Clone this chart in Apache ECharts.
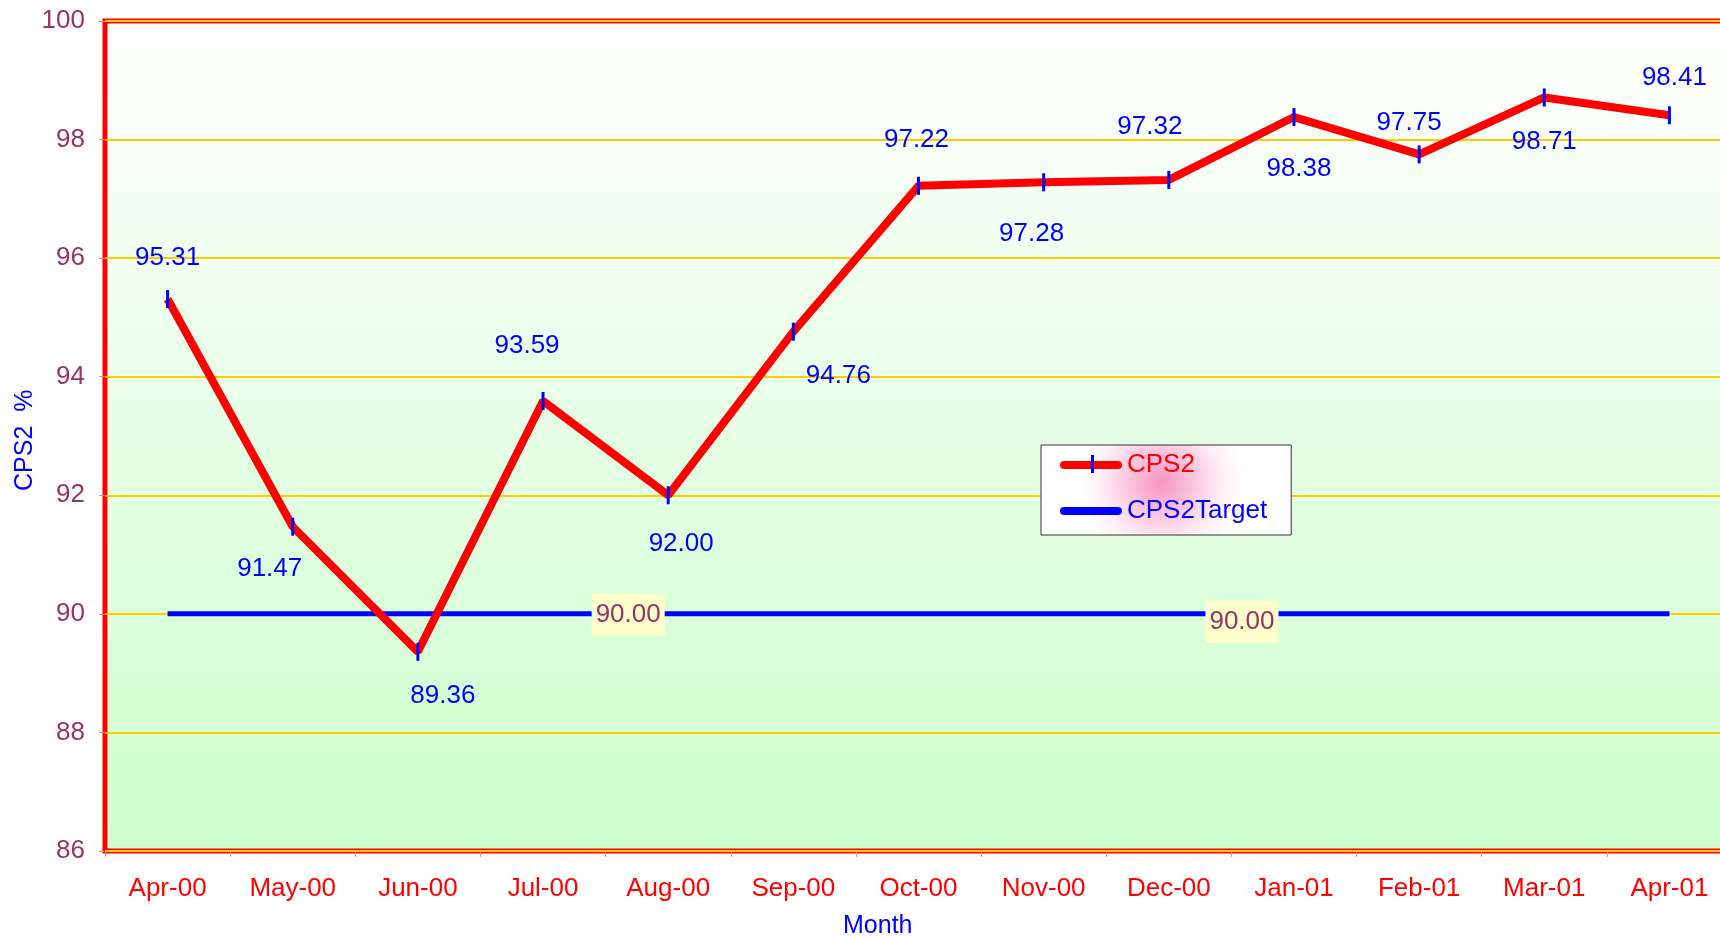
<!DOCTYPE html>
<html>
<head>
<meta charset="utf-8">
<script src="https://cdn.jsdelivr.net/npm/echarts@6/dist/echarts.min.js"></script>
<style>
html,body{margin:0;padding:0;background:#fff;}
#chart{width:1720px;height:937px;}
</style>
</head>
<body>
<div id="chart"></div>
<script>
const months = ['Apr-00','May-00','Jun-00','Jul-00','Aug-00','Sep-00','Oct-00','Nov-00','Dec-00','Jan-01','Feb-01','Mar-01','Apr-01'];
const cps2 = [95.31, 91.47, 89.36, 93.59, 92.00, 94.76, 97.22, 97.28, 97.32, 98.38, 97.75, 98.71, 98.41];
const cps2Target = [90, 90, 90, 90, 90, 90, 90, 90, 90, 90, 90, 90, 90];
const yTicks = [86, 88, 90, 92, 94, 96, 98, 100];

// label placement (styling only)
const labelOffsets = [[0,-41],[-23,42],[25,44],[-16,-55],[13,49],[45,44],[-2,-46],[-12,52],[-19,-53],[5,52],[-10,-32],[0,44],[5,-37]];
const targetLabelIdx = {4: [-40, 1], 9: [-52, 8]};

const font = 'Arial, "Liberation Sans", sans-serif';
const chart = echarts.init(document.getElementById('chart'), null, {renderer: 'canvas'});

const cpsData = cps2.map((v, i) => ({
  value: v,
  label: {show: true, position: 'inside', offset: labelOffsets[i], formatter: p => p.value.toFixed(2)}
}));
const targetData = cps2Target.map((v, i) => {
  const o = targetLabelIdx[i];
  return o ? {value: v, label: {show: true, position: 'inside', offset: o, formatter: p => p.value.toFixed(2),
    backgroundColor: '#FFFFCC', color: '#993366', padding: [9, 4, 7, 4], fontSize: 26, fontFamily: font}} : {value: v};
});

const barPath = 'path://M4,0 L55,0 A4,4 0 0 1 55,8 L4,8 A4,4 0 0 1 4,0 Z';

chart.setOption({
  animation: false,
  backgroundColor: '#ffffff',
  grid: {
    left: 105, top: 21, width: 1627, height: 830,
    outerBoundsMode: 'none',
    containLabel: false,
    show: true,
    borderColor: '#FF0000', borderWidth: 5,
    backgroundColor: new echarts.graphic.LinearGradient(0, 0, 0, 1, [
      {offset: 0, color: '#FFFFFF'},
      {offset: 0.08, color: '#FBFFFB'},
      {offset: 1, color: '#CCFFCC'}
    ])
  },
  xAxis: {
    type: 'category',
    data: months,
    boundaryGap: true,
    axisLine: {show: false},
    axisTick: {show: true, length: 6, alignWithLabel: false, lineStyle: {color: '#FF8080', width: 1}},
    axisLabel: {color: '#FF0000', fontSize: 26, fontFamily: font, margin: 25},
    splitLine: {show: false}
  },
  yAxis: {
    type: 'value',
    min: yTicks[0], max: yTicks[yTicks.length - 1], interval: 2,
    axisLine: {show: false},
    axisTick: {show: true, length: 6, lineStyle: {color: '#FF8080', width: 1}},
    axisLabel: {color: '#993366', fontSize: 26, fontFamily: font, margin: 20},
    splitLine: {show: true, lineStyle: {color: '#FFCC00', width: 2}}
  },
  legend: {
    orient: 'vertical',
    left: 1041, top: 445,
    padding: [4, 24, 8, 19],
    itemGap: 14,
    itemWidth: 62, itemHeight: 8,
    symbolKeepAspect: false,
    backgroundColor: new echarts.graphic.RadialGradient(0.48, 0.42, 0.9, [
      {offset: 0, color: '#F794C2'},
      {offset: 0.35, color: '#FAC0DB'},
      {offset: 0.75, color: '#FEF0F6'},
      {offset: 1, color: '#FFFFFF'}
    ]),
    borderColor: '#333333', borderWidth: 1,
    textStyle: {fontSize: 26, fontFamily: font, lineHeight: 32},
    data: [
      {name: 'CPS2', icon: barPath, itemStyle: {color: '#FF0000'}, textStyle: {color: '#FF0000'}},
      {name: 'CPS2Target', icon: barPath, itemStyle: {color: '#0000FF'}, textStyle: {color: '#0000FF'}}
    ]
  },
  graphic: [
    {type: 'text', left: 843, top: 914, style: {text: 'Month', fill: '#0000FF', font: '25px ' + font}},
    {type: 'text', x: 13, y: 491, rotation: Math.PI / 2, style: {text: 'CPS2  %', fill: '#0000FF', font: '25px ' + font}},
    {type: 'rect', z: 100, shape: {x: 1091, y: 455, width: 3, height: 18}, style: {fill: '#0000FF'}}
  ],
  series: [
    {
      name: 'CPS2Target',
      type: 'line',
      data: targetData,
      showSymbol: true,
      symbol: 'circle',
      symbolSize: 0,
      lineStyle: {color: '#0000FF', width: 5},
      itemStyle: {color: '#0000FF'},
      z: 3
    },
    {
      name: 'CPS2',
      type: 'line',
      data: cpsData,
      symbol: 'rect',
      symbolSize: [3, 18],
      showSymbol: true,
      lineStyle: {color: '#FF0000', width: 8},
      itemStyle: {color: '#0000FF'},
      label: {color: '#0000FF', fontSize: 26, fontFamily: font},
      z: 4
    }
  ]
});
</script>
</body>
</html>
